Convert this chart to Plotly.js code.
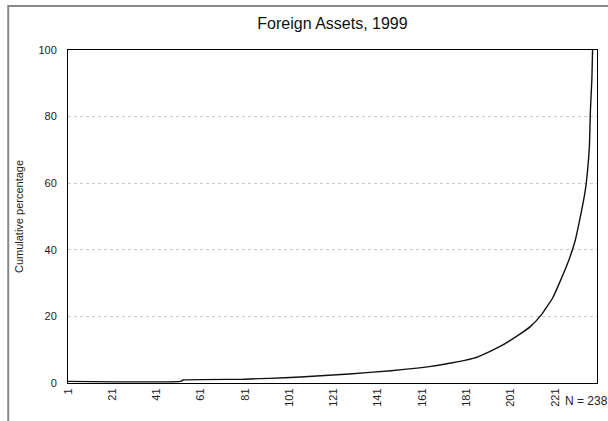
<!DOCTYPE html>
<html>
<head>
<meta charset="utf-8">
<script src="https://cdn.plot.ly/plotly-3.0.1.min.js"></script>
<style>html,body{margin:0;padding:0;background:#fff;}#chart{width:608px;height:421px;}</style>
</head>
<body>
<div id="chart"></div>
<script>
// Rank of unit (sorted ascending) and cumulative percentage
var rank = [1, 52, 53, 79, 83, 92, 106, 128, 147, 165, 174, 184, 187, 196, 205, 210, 215, 220, 223, 227, 230, 232, 234.6, 235.7, 236.6, 237, 237.7, 238];
var cumPct = [0.5, 0.5, 0.9, 1.1, 1.2, 1.4, 1.8, 2.7, 3.7, 5.0, 6.0, 7.4, 8.1, 10.9, 14.6, 17.0, 20.6, 25.6, 30.0, 36.4, 42.4, 48.4, 57.4, 63.5, 71.5, 81.5, 91.5, 100];
var xTicks = [1, 21, 41, 61, 81, 101, 121, 141, 161, 181, 201, 221];
var yTicks = [0, 20, 40, 60, 80, 100];
var nLabel = "N = 238";
var titleText = "Foreign Assets, 1999";
var yTitle = "Cumulative percentage";

var trace = {
  x: rank, y: cumPct, type: 'scatter', mode: 'lines',
  line: {color: '#111', width: 1.4, shape: 'spline', smoothing: 0.4},
  hoverinfo: 'skip'
};

var layout = {
  width: 608, height: 421,
  margin: {l: 68, r: 11, t: 50, b: 38, pad: 0},
  paper_bgcolor: '#fff', plot_bgcolor: '#fff',
  showlegend: false,
  font: {family: 'Arial, "Liberation Sans", sans-serif', color: '#222', size: 11},
  title: {text: titleText, x: 0.5, xref: 'paper', xanchor: 'center', y: 0.945, yref: 'container', yanchor: 'middle',
          font: {size: 16, color: '#111', family: 'Arial, "Liberation Sans", sans-serif'}},
  xaxis: {
    range: [1, 240], tickmode: 'array', tickvals: xTicks, ticktext: xTicks.map(String),
    tickangle: -90, ticks: '', showgrid: false, zeroline: false,
    showline: true, linecolor: '#000', linewidth: 1, mirror: true,
    tickfont: {size: 11, color: '#222'}, fixedrange: true
  },
  yaxis: {
    range: [0, 100], tickmode: 'array', tickvals: yTicks, ticks: '',
    showgrid: true, gridcolor: '#c8c8c8', griddash: 'dot', gridwidth: 1,
    zeroline: false, showline: true, linecolor: '#000', linewidth: 1, mirror: true,
    tickfont: {size: 11, color: '#222'}, ticklabelstandoff: 8,
    title: {text: yTitle, standoff: 12, font: {size: 11, color: '#222'}}, fixedrange: true
  },
  annotations: [{
    text: nLabel, xref: 'paper', yref: 'paper', x: 0.935, y: -0.027,
    xanchor: 'left', yanchor: 'top', showarrow: false, font: {size: 12, color: '#222'}
  }],
  shapes: [{
    type: 'rect', xref: 'paper', yref: 'paper', x0: -0.113, x1: 1.3, y0: -0.4, y1: 1.132,
    line: {color: '#888', width: 2}, fillcolor: 'rgba(0,0,0,0)', layer: 'below'
  }]
};

Plotly.newPlot('chart', [trace], layout, {staticPlot: true, displayModeBar: false});
</script>
</body>
</html>
